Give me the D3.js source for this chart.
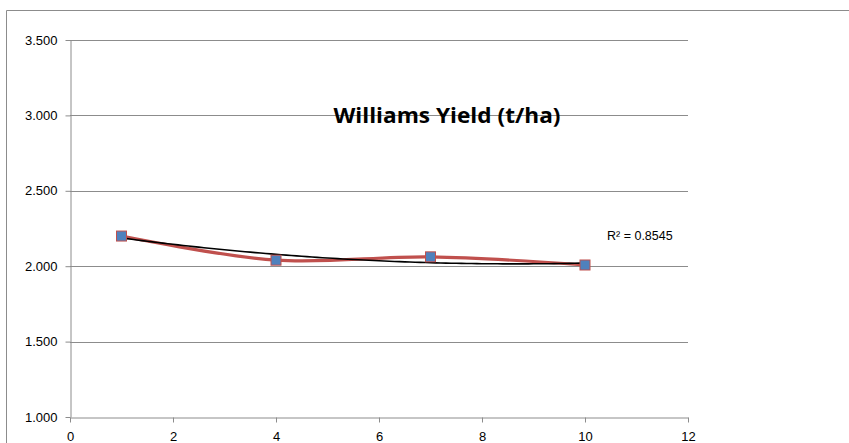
<style>body { margin: 0; }</style>
<svg width="849" height="443"></svg>
<script src="https://d3js.org/d3.v7.min.js"></script>
<script>
// data
var weeks = [1, 4, 7, 10];
var yieldVals = [2.200, 2.040, 2.062, 2.008];
var yTicks = [1.0, 1.5, 2.0, 2.5, 3.0, 3.5];
var xTicks = [0, 2, 4, 6, 8, 10, 12];
var chartTitle = "Williams Yield (t/ha)";
var r2Label = "R\u00B2 = 0.8545";

var width = 849, height = 443;
var svg = d3.select("svg").attr("width", width).attr("height", height)
  .style("display", "block")
  .style("font-family", "'Liberation Sans', sans-serif");

svg.append("rect").attr("width", width).attr("height", height).attr("fill", "#fff");

// outer chart frame (bottom is cut off in the original)
svg.append("path")
  .attr("d", "M6.5," + height + "V10.5H" + width)
  .attr("fill", "none").attr("stroke", "#8c8c8c").attr("stroke-width", 1);

var x = d3.scaleLinear().domain([0, 12]).range([70, 688]);
var y = d3.scaleLinear().domain([1, 3.5]).range([417, 40]);

// horizontal gridlines
svg.append("g").selectAll("line")
  .data(yTicks.slice(1))
  .enter().append("line")
  .attr("x1", x(0)).attr("x2", x(12))
  .attr("y1", function(d) { return Math.round(y(d)) + 0.5; })
  .attr("y2", function(d) { return Math.round(y(d)) + 0.5; })
  .attr("stroke", "#8c8c8c");

// y axis
var yAxis = svg.append("g")
  .attr("transform", "translate(" + (x(0) + 0.5) + ",0)")
  .attr("font-size", 13)
  .call(d3.axisLeft(y).tickValues(yTicks).tickFormat(d3.format(".3f")).tickSize(5).tickSizeOuter(0));
yAxis.attr("font-size", 13).attr("font-family", "'Liberation Sans', sans-serif");
yAxis.select(".domain").attr("stroke", "#8c8c8c");
yAxis.selectAll(".tick line").attr("stroke", "#8c8c8c");
yAxis.selectAll("text").attr("fill", "#000").attr("x", -13);

// x axis
var xAxis = svg.append("g")
  .attr("transform", "translate(0," + (Math.round(y(1)) + 0.5) + ")")
  .call(d3.axisBottom(x).tickValues(xTicks).tickSize(5).tickSizeOuter(0));
xAxis.attr("font-size", 13).attr("font-family", "'Liberation Sans', sans-serif");
xAxis.select(".domain").attr("stroke", "#8c8c8c");
xAxis.selectAll(".tick line").attr("stroke", "#8c8c8c");
xAxis.selectAll("text").attr("fill", "#000").attr("y", 14);

var pts = weeks.map(function(w, i) { return [w, yieldVals[i]]; });

// smoothed series line
var smooth = d3.line()
  .x(function(d) { return x(d[0]); })
  .y(function(d) { return y(d[1]); })
  .curve(d3.curveCatmullRom.alpha(0.5));

svg.append("path").datum(pts)
  .attr("d", smooth)
  .attr("fill", "none").attr("stroke", "#c0504d").attr("stroke-width", 3.2)
  .attr("stroke-linecap", "round");

// polynomial (order 2) trendline fitted by least squares
function fitQuad(xs, ys) {
  var S = [0, 0, 0, 0, 0], T = [0, 0, 0];
  xs.forEach(function(xv, i) {
    for (var k = 0; k < 5; k++) S[k] += Math.pow(xv, k);
    for (var k2 = 0; k2 < 3; k2++) T[k2] += ys[i] * Math.pow(xv, k2);
  });
  var A = [[S[0], S[1], S[2], T[0]], [S[1], S[2], S[3], T[1]], [S[2], S[3], S[4], T[2]]];
  for (var c = 0; c < 3; c++) {
    for (var r = c + 1; r < 3; r++) {
      var f = A[r][c] / A[c][c];
      for (var j = c; j < 4; j++) A[r][j] -= f * A[c][j];
    }
  }
  var b = [0, 0, 0];
  for (var r2 = 2; r2 >= 0; r2--) {
    var s = A[r2][3];
    for (var j2 = r2 + 1; j2 < 3; j2++) s -= A[r2][j2] * b[j2];
    b[r2] = s / A[r2][r2];
  }
  return b;
}
var coef = fitQuad(weeks, yieldVals);
var trendPts = d3.range(1, 10.01, 0.1).map(function(t) {
  return [t, coef[0] + coef[1] * t + coef[2] * t * t];
});
svg.append("path").datum(trendPts)
  .attr("d", d3.line().x(function(d) { return x(d[0]); }).y(function(d) { return y(d[1]); }))
  .attr("fill", "none").attr("stroke", "#000").attr("stroke-width", 1.6);

// markers
svg.append("g").selectAll("rect")
  .data(pts)
  .enter().append("rect")
  .attr("x", function(d) { return x(d[0]) - 5; })
  .attr("y", function(d) { return y(d[1]) - 5; })
  .attr("width", 10).attr("height", 10)
  .attr("fill", "#4f81bd").attr("stroke", "#c0504d").attr("stroke-width", 1);

// title
svg.append("text")
  .attr("x", 447).attr("y", 123)
  .attr("text-anchor", "middle")
  .attr("textLength", 227).attr("lengthAdjust", "spacingAndGlyphs")
  .style("font-size", "21px").style("font-weight", "bold")
  .style("font-family", "'Open Sans', 'Liberation Sans', sans-serif")
  .text(chartTitle);

// R squared label
svg.append("text")
  .attr("x", 607).attr("y", 240)
  .style("font-size", "12.5px")
  .style("font-family", "'Liberation Sans', sans-serif")
  .text(r2Label);
</script>
